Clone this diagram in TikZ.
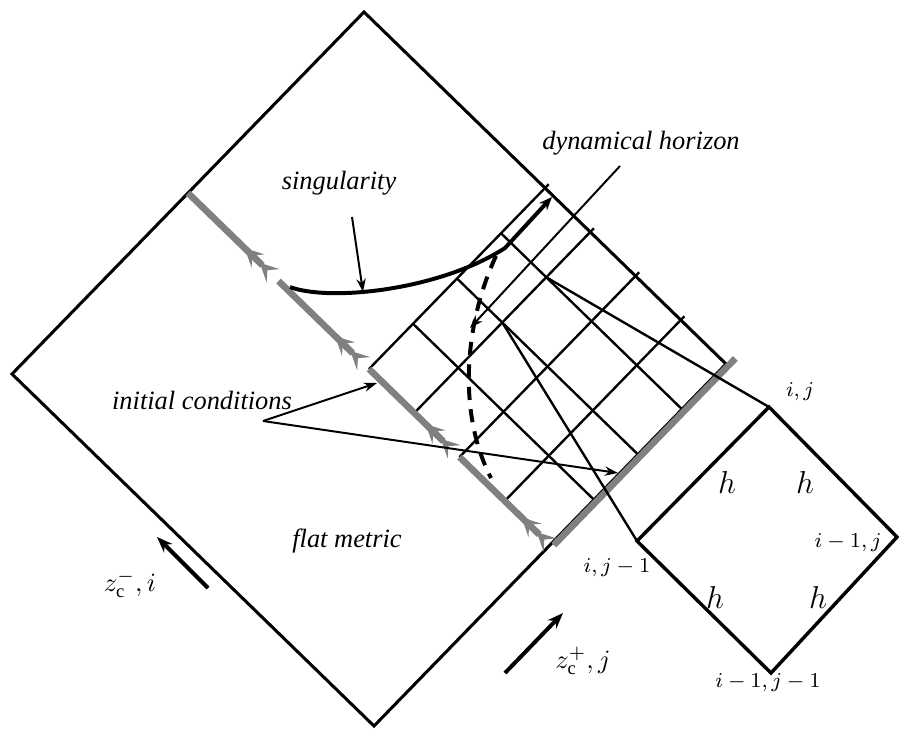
\documentclass[tikz,border=0pt]{standalone}
\usepackage{fontspec}
\setmainfont{Liberation Serif}
\usetikzlibrary{calc, arrows.meta}

\begin{document}
\begin{tikzpicture}[x=0.0133cm, y=-0.0133cm]
  \tikzstyle{edge} = [line width=1.15pt, line join=miter]
  \tikzstyle{mesh} = [line width=0.9pt]
  \tikzstyle{initial} = [line width=2.5pt, black!50, -{Stealth[reversed, length=7pt, width=7pt, inset=3pt, sep=1pt] Stealth[reversed, length=7pt, width=7pt, inset=3pt]}]
  \tikzstyle{pointer} = [line width=0.75pt, -{Stealth[length=5pt, width=3.5pt]}]
  \tikzstyle{zarrow} = [line width=1.5pt, -{Stealth[length=6pt, width=4.5pt]}]
  \tikzstyle{lbl} = [font=\itshape, inner sep=1pt]
  \tikzstyle{idx} = [font=\fontsize{8.5}{10}\selectfont, inner sep=1pt]
  \useasboundingbox (0,0) rectangle (899,728);

  % corners of the diagram
  \coordinate (T) at (364,12);
  \coordinate (L) at (12,374);
  \coordinate (Bo) at (374,726);
  \coordinate (R) at (726,364);
  \coordinate (A) at ($(L)!0.5!(R)$);
  \coordinate (B) at ($(Bo)!0.5!(R)$);
  \coordinate (D) at ($(T)!0.5!(R)$);
  \coordinate (M) at ($(L)!0.5!(T)$);

  % grid
  \foreach \u in {0, 0.25, 0.5, 0.75}
    \draw[mesh, shorten >=-2pt] ($(A)!\u!(B)$) -- ($(D)!\u!(R)$);
  \foreach \v in {0.25, 0.5, 0.75}
    \draw[mesh] ($(A)!\v!(D)$) -- ($(B)!\v!(R)$);

  \draw[edge] (T) -- (L) -- (Bo) -- (R) -- cycle;

  % initial data
  \foreach \s/\e in {0/0.235, 0.25/0.485, 0.5/0.735, 0.75/1}
    \draw[initial] ($(M)!\s!(B)$) -- ($(M)!\e!(B)$);
  \draw[line width=2.5pt, black!50, shorten <=1pt, shorten >=-4pt] ($(B)+(2,2)$) -- ($(R)+(2,2)$);

  % singularity and horizon
  \draw[line width=1.5pt, -{Stealth[length=5pt, width=4pt]}] (290,287) .. controls (330,302) and (440,290) .. (505,248) -- (552,197);
  \draw[line width=1.5pt, dash pattern=on 5pt off 3.5pt] (496,256) .. controls (466,320) and (456,410) .. (491,478);

  % labels
  \node[lbl] (sing) at (339,183) {singularity};
  \node[lbl] (dyn) at (641,143) {dynamical horizon};
  \node[lbl] (init) at (202,400) {initial conditions};
  \node[lbl] (flat) at (347,541) {flat metric};

  \coordinate (sing-from) at (352,217);
  \coordinate (sing-to) at (363,292);
  \coordinate (dyn-from) at (620,166);
  \coordinate (dyn-to) at (470,328);
  \coordinate (init-from) at (263,421);
  \coordinate (init-a) at (377,383);
  \coordinate (init-b) at (618,473);
  \draw[pointer] (sing-from) -- (sing-to);
  \draw[pointer] (dyn-from) -- (dyn-to);
  \draw[pointer] (init-from) -- (init-a);
  \draw[pointer] (init-from) -- (init-b);

  % one cell
  \coordinate (ij) at (769,407);
  \coordinate (ijm) at (637,541);
  \coordinate (imj) at (897,537);
  \coordinate (imjm) at (771,673);
  \draw[line width=1.3pt] (ij) -- (imj) -- (imjm) -- (ijm) -- cycle;
  \coordinate (g1) at ($(A)!0.25!(B) + 0.75*(D) - 0.75*(A)$);
  \coordinate (g2) at ($(A)!0.25!(B) + 0.5*(D) - 0.5*(A)$);
  \draw[mesh] (g1) -- (ij);
  \draw[mesh] (g2) -- (ijm);

  \node[idx] (l-ij) at (800,392) {$i,j$};
  \node[idx] (l-imj) at (848,543) {$i-1,j$};
  \node[idx] (l-ijm) at (617,568) {$i,j-1$};
  \node[idx] (l-imjm) at (768,683) {$i-1,j-1$};
  \node[font=\large] (h1) at (727,482) {$h$};
  \node[font=\large] (h2) at (805,482) {$h$};
  \node[font=\large] (h3) at (715,597) {$h$};
  \node[font=\large] (h4) at (818,597) {$h$};

  % directions
  \coordinate (zm-from) at (208,588);
  \coordinate (zm-to) at (157,537);
  \coordinate (zp-from) at (505,673);
  \coordinate (zp-to) at (563,613);
  \draw[zarrow] (zm-from) -- (zm-to);
  \draw[zarrow] (zp-from) -- (zp-to);
  \node (zm) at (130,584) {$z_{\mathrm{c}}^{-},i$};
  \node (zp) at (583,661) {$z_{\mathrm{c}}^{+},j$};
\end{tikzpicture}
\end{document}
